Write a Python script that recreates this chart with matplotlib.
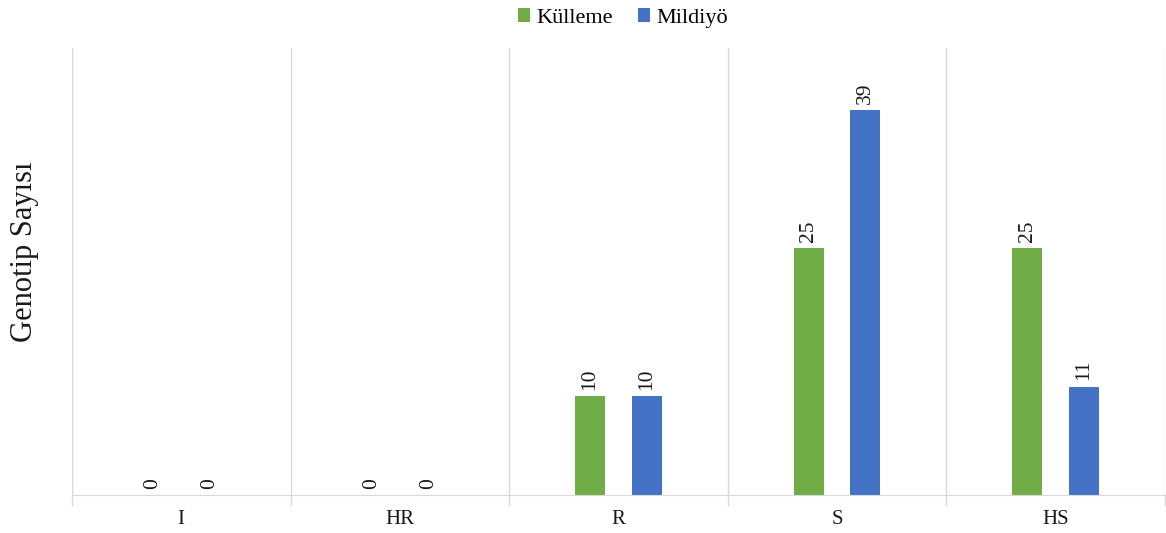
import matplotlib
matplotlib.use("Agg")
import matplotlib.pyplot as plt
import numpy as np

categories = ["I", "HR", "R", "S", "HS"]
kulleme = [0, 0, 10, 25, 25]
mildiyo = [0, 0, 10, 39, 11]
series_names = ["Külleme", "Mildiyö"]
colors = ["#70AD47", "#4472C4"]

plt.rcParams['font.family'] = ['Liberation Serif', 'DejaVu Serif']

fig = plt.figure(figsize=(11.66, 5.33), dpi=100)
ax = fig.add_axes([0.0617, 0.0713, 0.9373, 0.838])

x = np.arange(len(categories))
w = 0.137
off = 0.13
b1 = ax.bar(x - off, kulleme, w, color=colors[0], label=series_names[0])
b2 = ax.bar(x + off, mildiyo, w, color=colors[1], label=series_names[1])

for bars in (b1, b2):
    for r in bars:
        h = r.get_height()
        ax.annotate(f"{int(h)}", (r.get_x() + r.get_width() / 2, h),
                    xytext=(0, 4.5), textcoords="offset points",
                    ha="center", va="bottom", rotation=90, fontsize=15.5,
                    color="#1a1a1a")

ax.set_xlim(-0.5, len(categories) - 0.5)
ax.set_ylim(0, 45.3)
ax.set_yticks([])
ax.set_xticks(x)
ax.set_xticklabels(categories, fontsize=15, color="#1a1a1a")
ax.tick_params(axis="x", length=0, pad=11)
for b in np.arange(-0.5, len(categories), 1.0):
    ax.axvline(b, color="#D9D9D9", lw=1, zorder=0)
    ax.plot([b, b], [0, -0.022], transform=ax.get_xaxis_transform(),
            color="#D9D9D9", lw=1, clip_on=False)

for s in ["top", "right", "left"]:
    ax.spines[s].set_visible(False)
ax.spines["bottom"].set_color("#D9D9D9")

fig.text(25 / 1166, 1 - 252 / 533, "Genotip Sayısı", rotation=90,
         ha="center", va="center", fontsize=22, color="#1a1a1a")

fig.legend(loc="center", bbox_to_anchor=(623 / 1166, 1 - 18 / 533), ncol=2,
           frameon=False, fontsize=16, handlelength=0.55, handleheight=0.55,
           handletextpad=0.3, columnspacing=1.1)

fig.savefig("out.png", dpi=100)
